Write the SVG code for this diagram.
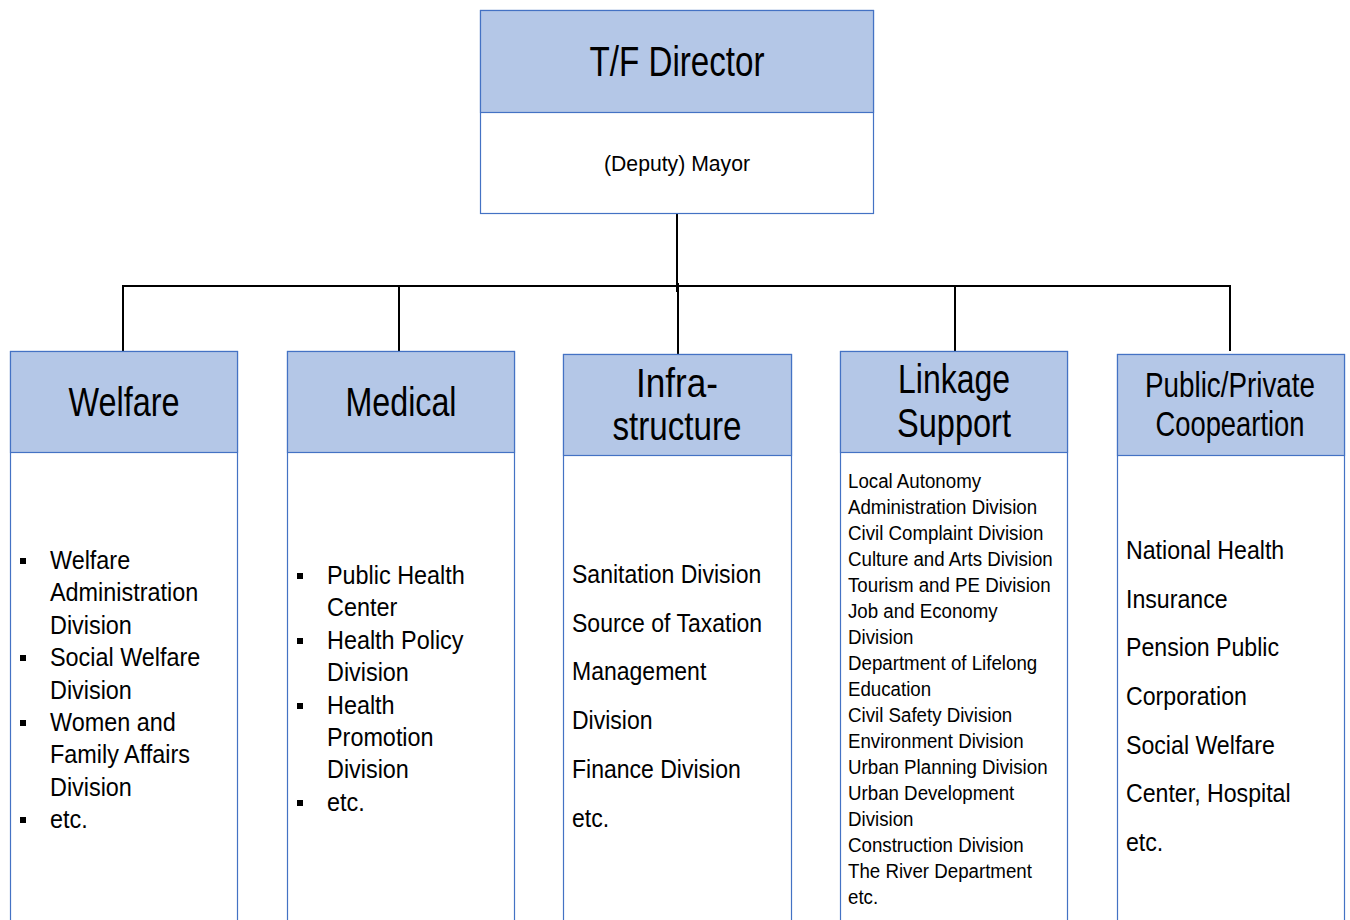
<svg xmlns="http://www.w3.org/2000/svg" width="1350" height="920" viewBox="0 0 1350 920">
<style>
.hd{fill:#B4C7E7;stroke:#4472C4;stroke-width:1.2}
.bd{fill:#FFFFFF;stroke:#4472C4;stroke-width:1.2}
.ln{stroke:#000;stroke-width:2;fill:none}
text{font-family:"Liberation Sans",Arial,sans-serif;fill:#000}
.h1{font-size:43px;text-anchor:middle}
.h2{font-size:40px;text-anchor:middle}
.h3{font-size:35px;text-anchor:middle}
.sub{font-size:22px;text-anchor:middle}
.b{font-size:26px}
.s{font-size:20px}
.bul{fill:#000}
</style>
<rect width="1350" height="920" fill="#FFFFFF"/>
<g id="connectors">
<line class="ln" x1="677" y1="213" x2="677" y2="292"/>
<line class="ln" x1="122" y1="286" x2="1231" y2="286"/>
<line class="ln" x1="123" y1="286" x2="123" y2="351"/>
<line class="ln" x1="399" y1="286" x2="399" y2="351"/>
<line class="ln" x1="678" y1="283" x2="678" y2="358"/>
<line class="ln" x1="955" y1="286" x2="955" y2="351"/>
<line class="ln" x1="1230" y1="287" x2="1230" y2="351"/>
</g>
<g id="director">
<rect class="bd" x="480.5" y="10.5" width="393" height="203"/>
<rect class="hd" x="480.5" y="10.5" width="393" height="102"/>
<text class="h1" x="677" y="76" textLength="175" lengthAdjust="spacingAndGlyphs">T/F Director</text>
<text class="sub" x="677" y="171" textLength="146" lengthAdjust="spacingAndGlyphs">(Deputy) Mayor</text>
</g>
<g id="welfare">
<rect class="bd" x="10.5" y="351.5" width="227" height="580"/>
<rect class="hd" x="10.5" y="351.5" width="227" height="101"/>
<text class="h2" x="124" y="416" textLength="111" lengthAdjust="spacingAndGlyphs">Welfare</text>
<rect class="bul" x="20" y="558" width="6" height="6"/>
<rect class="bul" x="20" y="655" width="6" height="6"/>
<rect class="bul" x="20" y="720" width="6" height="6"/>
<rect class="bul" x="20" y="817" width="6" height="6"/>
<g transform="translate(50,0) scale(0.9,1)">
<text class="b" x="0" y="569">Welfare</text>
<text class="b" x="0" y="601">Administration</text>
<text class="b" x="0" y="634">Division</text>
<text class="b" x="0" y="666">Social Welfare</text>
<text class="b" x="0" y="699">Division</text>
<text class="b" x="0" y="731">Women and</text>
<text class="b" x="0" y="763">Family Affairs</text>
<text class="b" x="0" y="796">Division</text>
<text class="b" x="0" y="828">etc.</text>
</g>
</g>
<g id="medical">
<rect class="bd" x="287.5" y="351.5" width="227" height="580"/>
<rect class="hd" x="287.5" y="351.5" width="227" height="101"/>
<text class="h2" x="401" y="416" textLength="111" lengthAdjust="spacingAndGlyphs">Medical</text>
<rect class="bul" x="297" y="573" width="6" height="6"/>
<rect class="bul" x="297" y="638" width="6" height="6"/>
<rect class="bul" x="297" y="703" width="6" height="6"/>
<rect class="bul" x="297" y="800" width="6" height="6"/>
<g transform="translate(327,0) scale(0.9,1)">
<text class="b" x="0" y="584">Public Health</text>
<text class="b" x="0" y="616">Center</text>
<text class="b" x="0" y="649">Health Policy</text>
<text class="b" x="0" y="681">Division</text>
<text class="b" x="0" y="714">Health</text>
<text class="b" x="0" y="746">Promotion</text>
<text class="b" x="0" y="778">Division</text>
<text class="b" x="0" y="811">etc.</text>
</g>
</g>
<g id="infrastructure">
<rect class="bd" x="563.5" y="354.5" width="228" height="580"/>
<rect class="hd" x="563.5" y="354.5" width="228" height="101"/>
<text class="h2" x="677" y="397" textLength="82" lengthAdjust="spacingAndGlyphs">Infra-</text>
<text class="h2" x="677" y="440" textLength="129" lengthAdjust="spacingAndGlyphs">structure</text>
<g transform="translate(572,0) scale(0.885,1)">
<text class="b" x="0" y="583">Sanitation Division</text>
<text class="b" x="0" y="632">Source of Taxation</text>
<text class="b" x="0" y="680">Management</text>
<text class="b" x="0" y="729">Division</text>
<text class="b" x="0" y="778">Finance Division</text>
<text class="b" x="0" y="827">etc.</text>
</g>
</g>
<g id="linkage">
<rect class="bd" x="840.5" y="351.5" width="227" height="580"/>
<rect class="hd" x="840.5" y="351.5" width="227" height="101"/>
<text class="h2" x="954" y="393" textLength="112" lengthAdjust="spacingAndGlyphs">Linkage</text>
<text class="h2" x="954" y="437" textLength="114" lengthAdjust="spacingAndGlyphs">Support</text>
<g transform="translate(848,0) scale(0.935,1)">
<text class="s" x="0" y="488">Local Autonomy</text>
<text class="s" x="0" y="514">Administration Division</text>
<text class="s" x="0" y="540">Civil Complaint Division</text>
<text class="s" x="0" y="566">Culture and Arts Division</text>
<text class="s" x="0" y="592">Tourism and PE Division</text>
<text class="s" x="0" y="618">Job and Economy</text>
<text class="s" x="0" y="644">Division</text>
<text class="s" x="0" y="670">Department of Lifelong</text>
<text class="s" x="0" y="696">Education</text>
<text class="s" x="0" y="722">Civil Safety Division</text>
<text class="s" x="0" y="748">Environment Division</text>
<text class="s" x="0" y="774">Urban Planning Division</text>
<text class="s" x="0" y="800">Urban Development</text>
<text class="s" x="0" y="826">Division</text>
<text class="s" x="0" y="852">Construction Division</text>
<text class="s" x="0" y="878">The River Department</text>
<text class="s" x="0" y="904">etc.</text>
</g>
</g>
<g id="public-private">
<rect class="bd" x="1117.5" y="354.5" width="227" height="580"/>
<rect class="hd" x="1117.5" y="354.5" width="227" height="101"/>
<text class="h3" x="1230" y="397" textLength="170" lengthAdjust="spacingAndGlyphs">Public/Private</text>
<text class="h3" x="1230" y="436" textLength="149" lengthAdjust="spacingAndGlyphs">Coopeartion</text>
<g transform="translate(1126,0) scale(0.89,1)">
<text class="b" x="0" y="559">National Health</text>
<text class="b" x="0" y="608">Insurance</text>
<text class="b" x="0" y="656">Pension Public</text>
<text class="b" x="0" y="705">Corporation</text>
<text class="b" x="0" y="754">Social Welfare</text>
<text class="b" x="0" y="802">Center, Hospital</text>
<text class="b" x="0" y="851">etc.</text>
</g>
</g>
</svg>
